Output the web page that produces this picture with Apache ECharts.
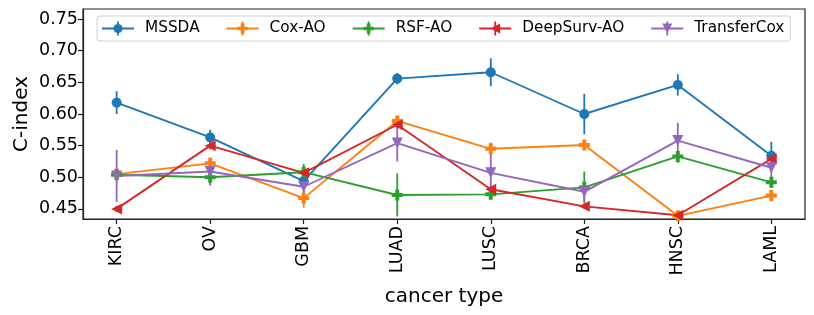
<!DOCTYPE html>
<html><head><meta charset="utf-8">
<script src="https://cdn.jsdelivr.net/npm/echarts@6/dist/echarts.min.js"></script>
<style>html,body{margin:0;padding:0;background:#fff}#c{width:814px;height:315px}</style>
</head><body><div id="c"></div>
<script>
const categories = ['KIRC','OV','GBM','LUAD','LUSC','BRCA','HNSC','LAML'];
const seriesNames = ['MSSDA','Cox-AO','RSF-AO','DeepSurv-AO','TransferCox'];
const mssda = [0.618,0.563,0.494,0.656,0.666,0.600,0.646,0.534];
const mssdaErr = [0.018,0.012,0.010,0.009,0.022,0.032,0.017,0.022];
const coxAO = [0.505,0.522,0.467,0.589,0.545,0.551,0.439,0.471];
const coxAOErr = [0.006,0.008,0.015,0.006,0.010,0.005,0.005,0.009];
const rsfAO = [0.504,0.500,0.508,0.472,0.473,0.484,0.533,0.492];
const rsfAOErr = [0.006,0.012,0.013,0.034,0.006,0.025,0.010,0.008];
const deepSurvAO = [0.450,0.550,0.507,0.583,0.481,0.454,0.440,0.529];
const deepSurvAOErr = [0.005,0.006,0.006,0.006,0.005,0.004,0.003,0.006];
const transferCox = [0.502,0.509,0.485,0.554,0.507,0.477,0.558,0.515];
const transferCoxErr = [0.041,0.022,0.012,0.029,0.035,0.015,0.028,0.015];
const yTicks = [0.45,0.50,0.55,0.60,0.65,0.70,0.75];

const values = [mssda, coxAO, rsfAO, deepSurvAO, transferCox];
const errors = [mssdaErr, coxAOErr, rsfAOErr, deepSurvAOErr, transferCoxErr];
const colors = ['#1f77b4','#ff7f0e','#2ca02c','#d62728','#9467bd'];

function norm(p){let s=0;for(let i=0;i<p.length;i++){const a=p[i],b=p[(i+1)%p.length];s+=a[0]*b[1]-b[0]*a[1];}return s<0?p.slice().reverse():p;}
function polyPath(p){p=norm(p);return 'M'+p.map(q=>q[0].toFixed(2)+' '+q[1].toFixed(2)).join(' L')+' Z';}
function circlePoly(cx,cy,r){const p=[];for(let i=0;i<36;i++){const t=i/36*Math.PI*2;p.push([cx+r*Math.cos(t),cy+r*Math.sin(t)]);}return p;}
function plusPoly(cx,cy,r){const w=r*0.36;return [[cx-w,cy-r],[cx+w,cy-r],[cx+w,cy-w],[cx+r,cy-w],[cx+r,cy+w],[cx+w,cy+w],[cx+w,cy+r],[cx-w,cy+r],[cx-w,cy+w],[cx-r,cy+w],[cx-r,cy-w],[cx-w,cy-w]];}
function triLeft(cx,cy,r){return [[cx-r,cy],[cx+r,cy-r],[cx+r,cy+r]];}
function triDown(cx,cy,r){return [[cx-r,cy-r],[cx+r,cy-r],[cx,cy+r]];}
const shapeFns = [circlePoly, plusPoly, plusPoly, triLeft, triDown];
function iconPath(k){
  const W=32,H=14,cx=16,cy=7;
  const parts=[[[0,6.1],[W,6.1],[W,7.9],[0,7.9]],[[15.1,0],[16.9,0],[16.9,H],[15.1,H]],shapeFns[k](cx,cy,k===0?4.6:5)];
  return 'path://'+parts.map(polyPath).join(' ');
}
function markerPath(k){return 'path://'+polyPath(shapeFns[k](10,10,10));}

const series = [];
seriesNames.forEach((name,k)=>{
  series.push({
    type:'custom', name:name+'_err', silent:true,
    data: values[k].map((v,i)=>[i, v-errors[k][i], v+errors[k][i]]),
    encode:{x:0,y:[1,2]},
    renderItem:(params,api)=>{
      const a=api.coord([api.value(0),api.value(1)]);
      const b=api.coord([api.value(0),api.value(2)]);
      return {type:'line',shape:{x1:a[0],y1:a[1],x2:b[0],y2:b[1]},style:{stroke:colors[k],lineWidth:1.8}};
    }
  });
  series.push({
    type:'line', name:name,
    data: values[k].map((v,i)=>[i,v]),
    symbol: markerPath(k),
    symbolSize: k===0?10:11,
    showSymbol:true,
    lineStyle:{color:colors[k],width:1.9},
    itemStyle:{color:colors[k]},
    emphasis:{disabled:true},
    animation:false
  });
});

const chart = echarts.init(document.getElementById('c'),null,{renderer:'canvas'});
chart.setOption({
  animation:false,
  color:colors,
  grid:{left:83,right:9,top:9,bottom:96,show:true,borderColor:'#222',borderWidth:1.2,backgroundColor:'transparent'},
  legend:{
    left:97, top:16, orient:'horizontal',
    itemWidth:32, itemHeight:14, itemGap:27,
    padding:[5,6,5,5],
    borderColor:'#d0d0d0', borderWidth:1, borderRadius:3,
    textStyle:{fontFamily:'DejaVu Sans',fontSize:15.3,color:'#000',padding:[0,0,0,6]},
    data: seriesNames.map((n,k)=>({name:n,icon:iconPath(k),itemStyle:{color:colors[k]}})),
    selectedMode:false
  },
  xAxis:{
    type:'value', min:-0.36, max:7.36,
    name:'cancer type', nameLocation:'middle', nameGap:68, nameMoveOverlap:false,
    nameTextStyle:{fontFamily:'DejaVu Sans',fontSize:20,color:'#000'},
    axisLine:{show:true,onZero:false,lineStyle:{color:'#222',width:1.2}},
    axisTick:{show:true,length:5,lineStyle:{color:'#222',width:1.2},customValues:categories.map((c,i)=>i)},
    axisLabel:{rotate:90,margin:7,fontFamily:'DejaVu Sans',fontSize:17.5,color:'#000',
      customValues:categories.map((c,i)=>i),formatter:v=>categories[Math.round(v)]},
    splitLine:{show:false}
  },
  yAxis:{
    type:'value', min:0.434, max:0.766,
    name:'C-index', nameLocation:'middle', nameGap:51, nameRotate:90, nameMoveOverlap:false,
    nameTextStyle:{fontFamily:'DejaVu Sans',fontSize:20,color:'#000'},
    axisLine:{show:true,onZero:false,lineStyle:{color:'#222',width:1.2}},
    axisTick:{show:true,length:5,lineStyle:{color:'#222',width:1.2},customValues:yTicks},
    axisLabel:{margin:5,fontFamily:'DejaVu Sans',fontSize:17.5,color:'#000',customValues:yTicks,formatter:v=>v.toFixed(2)},
    splitLine:{show:false}
  },
  series:series
});
</script></body></html>
